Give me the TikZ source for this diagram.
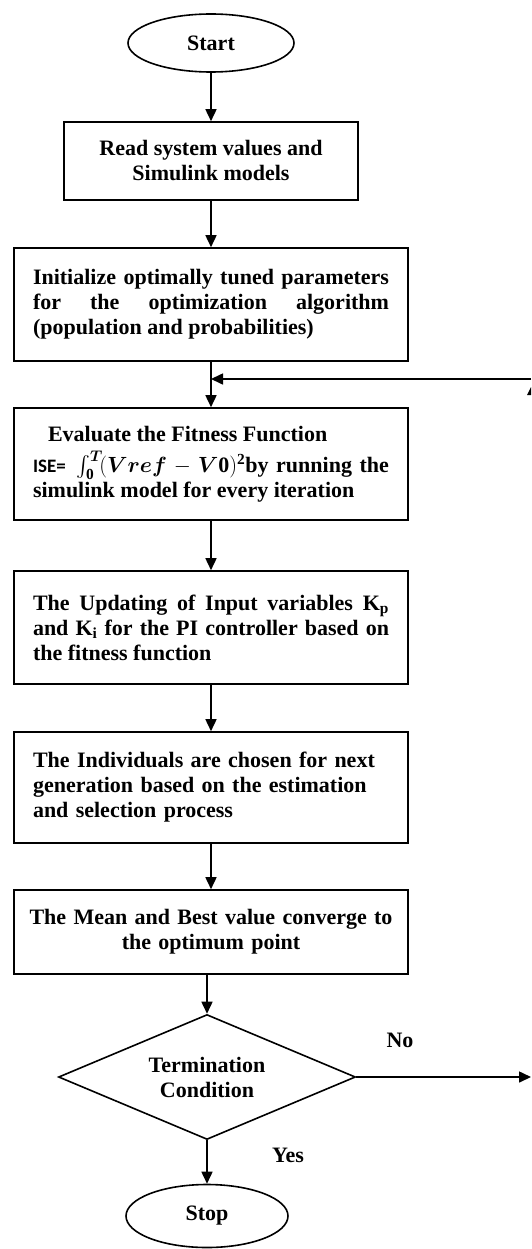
\RequirePackage{fix-cm}
\documentclass[tikz,border=0pt]{standalone}
\usepackage{amsmath}
\usepackage{fontspec}
\setmainfont{Liberation Serif}
\newfontfamily\calibfont{Carlito}
\usetikzlibrary{shapes.geometric,arrows.meta}
\newcommand{\bodyfnt}{\bfseries\fontsize{22}{25}\selectfont}
\tikzset{
  lw/.style={line width=1.6pt},
  bigbox/.style={draw, lw, rectangle, font=\bodyfnt, text width=356pt, inner xsep=19pt, inner ysep=0pt, minimum width=394pt},
  termbox/.style={draw, lw, ellipse, font=\bodyfnt, inner sep=0pt},
  flow/.style={lw, -{Triangle[length=12pt,width=11pt]}},
  lbl/.style={font=\bodyfnt, inner sep=0pt}
}
\begin{document}
\begin{tikzpicture}[x=1pt,y=-1pt]
\useasboundingbox (0,0) rectangle (531,1249);
\node[termbox, minimum width=166pt, minimum height=58pt] (start) at (211,43) {Start};
\node[draw, lw, rectangle, font=\bodyfnt, align=center, inner sep=0pt, minimum width=294pt, minimum height=78pt] (read) at (211,161) {Read system values and\\Simulink models};
\node[bigbox, align=justify, minimum height=113pt] (init) at (211,304.5) {Initialize optimally tuned parameters\linebreak for the optimization algorithm\linebreak (population and probabilities)};
\node[bigbox, align=justify, minimum height=112pt] (eval) at (211,464) {\noindent\hspace*{15pt}Evaluate the Fitness Function\par\vspace{6pt}\noindent{\calibfont\fontsize{19}{25}\selectfont ISE=}\hspace{3pt} $\textstyle\int_{\mathbf{0}}^{\boldsymbol{T}}\!(\boldsymbol{Vref}-\boldsymbol{V}\mathbf{0})^{\mathbf{2}}$by running the\linebreak simulink model for every iteration};
\node[bigbox, align=justify, minimum height=113pt] (upd) at (211,627.5) {The Updating of Input variables K\textsubscript{p}\linebreak and K\textsubscript{i} for the PI controller based on\linebreak the fitness function};
\node[bigbox, align=left, minimum height=111pt] (indiv) at (211,787.5) {The Individuals are chosen for next\\generation based on the estimation\\and selection process};
\node[bigbox, text width=380pt, inner xsep=7pt, align=center, minimum height=84pt] (mean) at (211,932) {The Mean and Best value converge to\\the optimum point};
\node[draw, lw, diamond, font=\bodyfnt, align=center, inner sep=0pt, shape aspect=2.4, minimum width=297pt, minimum height=125pt] (dia) at (207,1077) {Termination\\Condition};
\node[termbox, minimum width=162pt, minimum height=63pt] (stop) at (207,1216) {Stop};
\node[lbl] (no) at (400,1040) {No};
\node[lbl] (yes) at (288,1155) {Yes};
\coordinate (noend) at (531,1077);
\coordinate (fbstart) at (531,379);
\coordinate (fbin) at (211,379);
\draw[flow] (start) -- (read);
\draw[flow] (read) -- (init);
\draw[flow] (init) -- (eval);
\draw[flow] (eval) -- (upd);
\draw[flow] (upd) -- (indiv);
\draw[flow] (indiv) -- (mean);
\draw[flow] (dia.north |- mean.south) -- (dia.north);
\draw[flow] (dia) -- (stop);
\draw[flow] (dia.east) -- (noend);
\draw[flow] (fbstart) -- (fbin);
\fill (527,395) -- (531,387) -- (531,395) -- cycle;
\end{tikzpicture}
\end{document}
